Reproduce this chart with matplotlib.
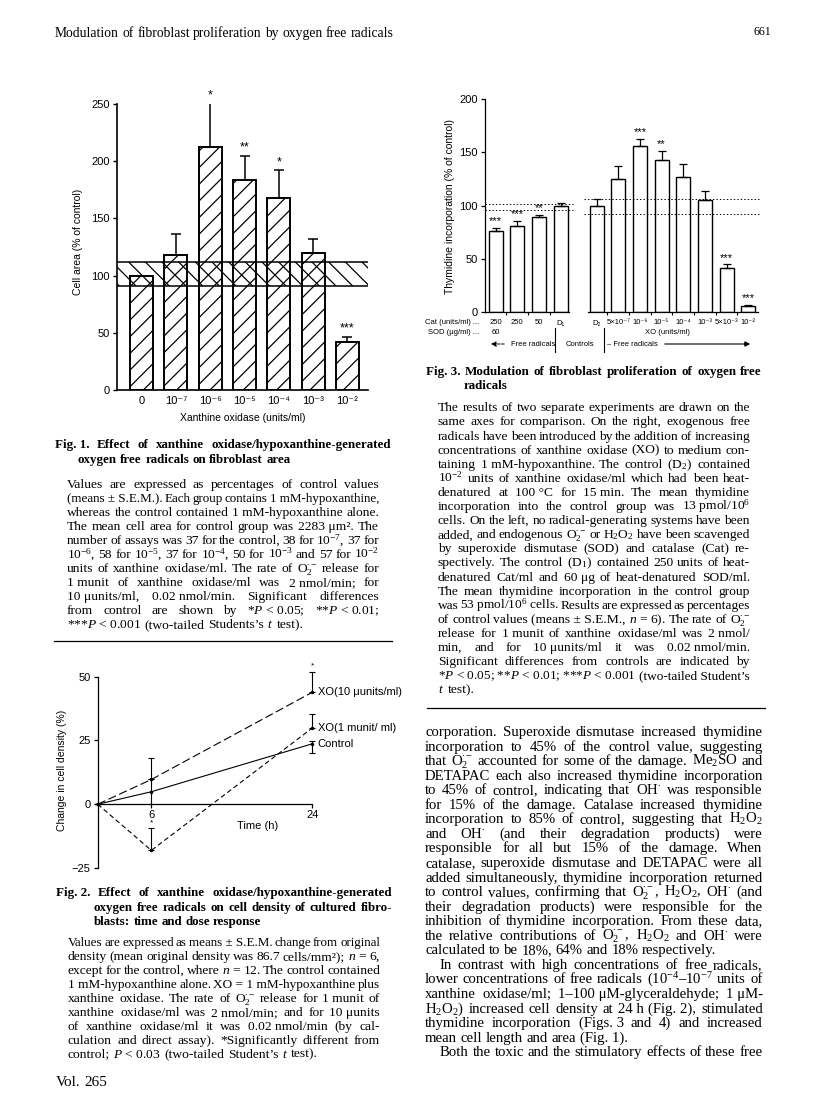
import numpy as np
import matplotlib
matplotlib.use('Agg')
import matplotlib.pyplot as plt
from matplotlib import transforms
from matplotlib.lines import Line2D

W, H = 816, 1097

plt.rcParams['mathtext.fontset'] = 'custom'
plt.rcParams['mathtext.rm'] = 'Liberation Serif'
plt.rcParams['mathtext.it'] = 'Liberation Serif:italic'
plt.rcParams['mathtext.bf'] = 'Liberation Serif:bold'
plt.rcParams['hatch.linewidth'] = 0.9
plt.rcParams['lines.scale_dashes'] = False

SERIF = ['Liberation Serif', 'DejaVu Serif']
SANS = ['Liberation Sans', 'DejaVu Sans']

# ---- Fig. 1 data: cell area vs xanthine oxidase
xo_labels = ['0', '10⁻⁷', '10⁻⁶', '10⁻⁵', '10⁻⁴', '10⁻³', '10⁻²']
area_mean = [100, 118, 212, 184, 168, 120, 42]
area_sem = [0, 18, 38.5, 20.5, 24, 12, 4.5]
area_sig = ['', '', '*', '**', '*', '', '***']
area_band = (90.5, 112)

# ---- Fig. 2 data: change in cell density over time
time_h = [0, 6, 24]
dens_xo10 = [0, 9.7, 43.9]
dens_xo10_err = [[0, 0, 0], [0, 8.6, 8.1]]
dens_xo1 = [0, -18.1, 29.9]
dens_xo1_err = [[0, 0, 0], [0, 8.8, 5.5]]
dens_ctrl = [0, 4.9, 23.7]
dens_ctrl_err = [[0, 4.9, 3.5], [0, 4.9, 1.0]]
dens_names = ['XO(10 μunits/ml)', 'XO(1 munit/ ml)', 'Control']

# ---- Fig. 3 data: thymidine incorporation
cat_labels = ['250', '250', '50', 'D₁']
sod_labels = ['60', '', '', '']
thy_left = [76.7, 80.8, 89.6, 99.4]
thy_left_sem = [2.5, 5.0, 2.2, 2.8]
sig_left = ['***', '***', '**', '']
xo3_labels = ['D₂', '5×10⁻⁷', '10⁻⁶', '10⁻⁵', '10⁻⁴', '10⁻³', '5×10⁻³', '10⁻²']
thy_right = [99.4, 125.2, 156.3, 142.5, 126.7, 105.0, 41.8, 5.7]
thy_right_sem = [6.6, 11.9, 6.6, 9.1, 12.0, 9.2, 3.2, 1.5]
sig_right = ['', '', '***', '**', '', '', '***', '***']
ctrl_left = (95.9, 101.9)
ctrl_right = (92.1, 106.0)

fig = plt.figure(figsize=(W / 100, H / 100), dpi=100)
renderer = fig.canvas.get_renderer()


def fx(px):
    return px / W


def fy(py):
    return 1 - py / H


def put_line(s, x0, x1, y, size=9, weight='normal', justify=True):
    # words joined by '~' stay together; line is spread to fill x0..x1
    words = [w.replace('~', ' ') for w in s.split()]
    base = y + 0.23 * size * 100 / 72
    texts = [fig.text(0, fy(base), w, fontsize=size, family=SERIF,
                      weight=weight, va='baseline') for w in words]
    widths = [t.get_window_extent(renderer).width for t in texts]
    min_gap = size * 100 / 72 * 0.12
    natural = sum(widths) + min_gap * (len(words) - 1)
    if natural > x1 - x0:
        k = (x1 - x0) / natural
        for t in texts:
            t.set_fontsize(size * k)
        widths = [t.get_window_extent(renderer).width for t in texts]
    if justify and len(words) > 1:
        gap = (x1 - x0 - sum(widths)) / (len(words) - 1)
    else:
        gap = size * 100 / 72 * 0.25
    x = x0
    for t, w in zip(texts, widths):
        t.set_x(fx(x))
        x += w + gap


def put_par(lines, x0, x1, y0, step, size=9, last_left=True):
    for i, s in enumerate(lines):
        indent = 0
        if s.startswith('>'):
            s = s[1:]
            indent = 14
        left = last_left and i == len(lines) - 1
        put_line(s, x0 + indent, x1, y0 + i * step, size=size, justify=not left)


def hrule(x0, x1, y):
    fig.add_artist(Line2D([fx(x0), fx(x1)], [fy(y), fy(y)], color='black', lw=0.9))


CAP = 9.7
TITLE = 9.4
BODY = 10.6

# header
put_line('Modulation of fibroblast proliferation by oxygen free radicals', 55, 394, 34,
         size=9.85, justify=False)
put_line('661', 754, 772, 32, size=9.85, justify=False)

# ================= Fig. 1 =================
ax1 = fig.add_axes([fx(117), fy(390), (368 - 117) / W, (390 - 104) / H])
x1 = np.arange(len(area_mean))
xl1 = (-0.72, 6.6)
ax1.bar(x1, area_mean, width=0.67, color='white', edgecolor='black', hatch='//',
        linewidth=1.4, zorder=2)
ax1.errorbar(x1, area_mean, yerr=[np.zeros(len(area_sem)), area_sem], fmt='none',
             ecolor='black', elinewidth=1.1, capsize=3.5, capthick=1.1, zorder=3)
ax1.fill_between(xl1, area_band[0], area_band[1], facecolor='none', edgecolor='black',
                 hatch='\\\\', linewidth=0, zorder=4)
ax1.hlines(area_band, xl1[0], xl1[1], color='black', lw=1.1, zorder=4)
for xi, m, e, s in zip(x1, area_mean, area_sem, area_sig):
    if s:
        ax1.text(xi, m + e + 2, s, ha='center', va='bottom', fontsize=9,
                 family=SANS, clip_on=False)
ax1.set_xlim(xl1)
ax1.set_ylim(0, 250)
ax1.set_yticks([0, 50, 100, 150, 200, 250])
ax1.set_yticklabels(['0', '50', '100', '150', '200', '250'], family=SANS, fontsize=8)
ax1.set_xticks(x1)
ax1.set_xticklabels(xo_labels, family=SANS, fontsize=8)
ax1.tick_params(axis='x', length=0, pad=4)
ax1.tick_params(axis='y', length=3, width=1, pad=2)
for sp in ['top', 'right']:
    ax1.spines[sp].set_visible(False)
for sp in ['left', 'bottom']:
    ax1.spines[sp].set_linewidth(1.2)
fig.text(fx(78), fy(242), 'Cell area (% of control)', rotation=90, ha='center',
         va='center', fontsize=7.5, family=SANS)
fig.text(fx(243), fy(418), 'Xanthine oxidase (units/ml)', ha='center', va='center',
         fontsize=7.5, family=SANS)

put_line('Fig.~1. Effect of xanthine oxidase/hypoxanthine-generated', 55, 391, 445,
         size=TITLE, weight='bold')
put_line('oxygen free radicals on fibroblast area', 78, 391, 460, size=TITLE,
         weight='bold', justify=False)

fig1_par = [
    'Values are expressed as percentages of control values',
    '(means~±~S.E.M.). Each group contains 1~mM-hypoxanthine,',
    'whereas the control contained 1~mM-hypoxanthine alone.',
    'The mean cell area for control group was 2283~μm². The',
    r'number of assays was 37 for the control, 38 for 10$^{-7}$, 37 for',
    r'10$^{-6}$, 58 for 10$^{-5}$, 37 for 10$^{-4}$, 50 for 10$^{-3}$ and 57 for 10$^{-2}$',
    r'units of xanthine oxidase/ml. The rate of O$_2^{\bullet-}$ release for',
    '1~munit of xanthine oxidase/ml was 2~nmol/min; for',
    '10~μunits/ml, 0.02~nmol/min. Significant differences',
    r'from control are shown by *$P$~<~0.05; **$P$~<~0.01;',
    r'***$P$~<~0.001 (two-tailed Students’s $t$ test).',
]
put_par(fig1_par, 67, 379, 485, 14.0, size=CAP)
hrule(54, 392, 641)

# ================= Fig. 2 =================
ax2 = fig.add_axes([fx(97.7), fy(868), (312.3 - 97.7) / W, (868 - 676.7) / H])
ax2.errorbar(time_h, dens_xo10, yerr=dens_xo10_err, color='black', lw=0.8,
             dashes=(6, 2.5), marker='.', ms=3, elinewidth=0.8, capsize=2,
             capthick=0.8, clip_on=False)
ax2.errorbar(time_h, dens_xo1, yerr=dens_xo1_err, color='black', lw=0.8,
             dashes=(3.5, 2.2), marker='.', ms=3, elinewidth=0.8, capsize=2,
             capthick=0.8, clip_on=False)
ax2.errorbar(time_h, dens_ctrl, yerr=dens_ctrl_err, color='black', lw=0.8,
             marker='.', ms=3, elinewidth=0.8, capsize=2, capthick=0.8, clip_on=False)
for vals, name in zip([dens_xo10, dens_xo1, dens_ctrl], dens_names):
    ax2.annotate(name, xy=(time_h[-1], vals[-1]), xytext=(4, 0),
                 textcoords='offset points', va='center', ha='left', fontsize=8,
                 family=SANS, annotation_clip=False)
ax2.text(24, dens_xo10[-1] + dens_xo10_err[1][-1] + 0.8, '*', ha='center',
         va='bottom', fontsize=6, family=SANS)
ax2.text(6, dens_xo1[1] + dens_xo1_err[1][1] + 0.8, '*', ha='center',
         va='bottom', fontsize=6, family=SANS)
ax2.set_xlim(0, 24)
ax2.set_ylim(-25, 50)
ax2.spines['bottom'].set_position(('data', 0))
for sp in ['top', 'right']:
    ax2.spines[sp].set_visible(False)
ax2.spines['left'].set_linewidth(0.9)
ax2.spines['bottom'].set_linewidth(0.9)
ax2.set_yticks([-25, 0, 25, 50])
ax2.set_yticklabels(['−25', '0', '25', '50'], family=SANS, fontsize=8)
ax2.set_xticks([6, 24])
ax2.set_xticklabels(['6', '24'], family=SANS, fontsize=8)
ax2.tick_params(axis='x', length=3, width=0.9, pad=1)
ax2.tick_params(axis='y', length=3, width=0.9, pad=2)
fig.text(fx(258), fy(826), 'Time (h)', ha='center', va='center', fontsize=8, family=SANS)
fig.text(fx(62), fy(770), 'Change in cell density (%)', rotation=90, ha='center',
         va='center', fontsize=7.5, family=SANS)

put_line('Fig.~2. Effect of xanthine oxidase/hypoxanthine-generated', 56, 392, 893,
         size=TITLE, weight='bold')
put_line('oxygen free radicals on cell density of cultured fibro-', 94, 392, 908,
         size=TITLE, weight='bold')
put_line('blasts: time and dose response', 94, 392, 922, size=TITLE, weight='bold',
         justify=False)

fig2_par = [
    'Values are expressed as means~±~S.E.M. change from original',
    r'density (mean original density was 86.7 cells/mm²); $n$~=~6,',
    r'except for the control, where $n$~=~12. The control contained',
    '1~mM-hypoxanthine alone. XO~=~1~mM-hypoxanthine plus',
    r'xanthine oxidase. The rate of O$_2^{\bullet-}$ release for 1~munit of',
    'xanthine oxidase/ml was 2~nmol/min; and for 10~μunits',
    'of xanthine oxidase/ml it was 0.02~nmol/min (by cal-',
    'culation and direct assay). *Significantly different from',
    r'control; $P$~<~0.03 (two-tailed Student’s $t$ test).',
]
put_par(fig2_par, 68, 380, 943, 13.95, size=CAP)
put_line('Vol. 265', 56, 120, 1082, size=11, justify=False)

# ================= Fig. 3 =================
ax3 = fig.add_axes([fx(485), fy(312.5), (760 - 485) / W, (312.5 - 99) / H])
xl3 = (-0.49, 12.2)
gap = 0.66
xs_left = np.arange(len(thy_left))
xs_right = np.arange(len(thy_right)) + len(thy_left) + gap
ax3.bar(xs_left, thy_left, width=0.65, color='white', edgecolor='black', lw=1.0, zorder=2)
ax3.bar(xs_right, thy_right, width=0.65, color='white', edgecolor='black', lw=1.0, zorder=2)
ax3.errorbar(xs_left, thy_left, yerr=[np.zeros(4), thy_left_sem], fmt='none',
             ecolor='black', elinewidth=0.9, capsize=3, capthick=0.9, zorder=3)
ax3.errorbar(xs_right, thy_right, yerr=[np.zeros(8), thy_right_sem], fmt='none',
             ecolor='black', elinewidth=0.9, capsize=3, capthick=0.9, zorder=3)
for xs, vals, sems, sigs in [(xs_left, thy_left, thy_left_sem, sig_left),
                             (xs_right, thy_right, thy_right_sem, sig_right)]:
    for xi, m, e, s in zip(xs, vals, sems, sigs):
        if s:
            ax3.text(xi, m + e + 1.5, s, ha='center', va='bottom', fontsize=8,
                     family=SANS)
left_end = xs_left[-1] + 0.56
right_start = xs_right[0] - 0.6
ax3.hlines(ctrl_left, xl3[0], left_end, color='black', lw=0.7, linestyles=(0, (1, 1.5)))
ax3.hlines(ctrl_right, right_start, xl3[1], color='black', lw=0.7,
           linestyles=(0, (1, 1.5)))
ax3.set_xlim(xl3)
ax3.set_ylim(0, 200)
ax3.spines['bottom'].set_visible(False)
for sp in ['top', 'right']:
    ax3.spines[sp].set_visible(False)
ax3.spines['left'].set_linewidth(0.9)
ax3.plot([xl3[0], xs_left[-1] + 0.4], [0, 0], color='black', lw=0.9, clip_on=False)
ax3.plot([xs_right[0] - 0.4, xs_right[-1] + 0.45], [0, 0], color='black', lw=0.9,
         clip_on=False)
ax3.set_yticks([0, 50, 100, 150, 200])
ax3.set_yticklabels(['0', '50', '100', '150', '200'], family=SANS, fontsize=8)
ax3.set_xticks(list(xs_left[:-1] + 0.5) + list(xs_right[:-1] + 0.5))
ax3.set_xticklabels([])
ax3.tick_params(axis='x', length=2.5, width=0.8, direction='out')
ax3.tick_params(axis='y', length=3, width=0.9, pad=2)
fig.text(fx(450), fy(206), 'Thymidine incorporation (% of control)', rotation=90,
         ha='center', va='center', fontsize=7.5, family=SANS)

tr3 = transforms.blended_transform_factory(ax3.transData, fig.transFigure)
for xi, lab in zip(xs_left, cat_labels):
    ax3.text(xi, fy(323), lab, transform=tr3, ha='center', va='center', fontsize=5.5,
             family=SANS)
for xi, lab in zip(xs_left, sod_labels):
    ax3.text(xi, fy(333), lab, transform=tr3, ha='center', va='center', fontsize=5.5,
             family=SANS)
for xi, lab in zip(xs_right, xo3_labels):
    ax3.text(xi, fy(323), lab, transform=tr3, ha='center', va='center', fontsize=5.5,
             family=SANS)
fig.text(fx(425), fy(323), 'Cat (units/ml) ...', ha='left', va='center', fontsize=5.5,
         family=SANS)
fig.text(fx(428), fy(333), 'SOD (μg/ml) ...', ha='left', va='center', fontsize=5.5,
         family=SANS)
fig.text(fx(667), fy(333), 'XO (units/ml)', ha='center', va='center', fontsize=5.5,
         family=SANS)
fig.text(fx(511), fy(344), 'Free radicals', ha='left', va='center', fontsize=5.5,
         family=SANS)
fig.text(fx(580), fy(344), 'Controls', ha='center', va='center', fontsize=5.5,
         family=SANS)
fig.text(fx(607), fy(344), '– Free radicals', ha='left', va='center', fontsize=5.5,
         family=SANS)
fig.add_artist(plt.Line2D([fx(555), fx(555)], [fy(328), fy(352)], color='black', lw=0.8))
fig.add_artist(plt.Line2D([fx(604), fx(604)], [fy(328), fy(352)], color='black', lw=0.8))
fig.add_artist(matplotlib.patches.FancyArrowPatch(
    (fx(507), fy(344)), (fx(488), fy(344)), transform=fig.transFigure,
    arrowstyle='-|>,head_length=3,head_width=1.5', color='black', lw=0.7,
    linestyle=(0, (2, 1))))
fig.add_artist(matplotlib.patches.FancyArrowPatch(
    (fx(662), fy(344)), (fx(753), fy(344)), transform=fig.transFigure,
    arrowstyle='-|>,head_length=3,head_width=1.5', color='black', lw=0.8))

put_line('Fig.~3. Modulation of fibroblast proliferation of oxygen free', 426, 762, 371.7,
         size=TITLE, weight='bold')
put_line('radicals', 464, 762, 386, size=TITLE, weight='bold', justify=False)

fig3_par = [
    'The results of two separate experiments are drawn on the',
    'same axes for comparison. On the right, exogenous free',
    'radicals have been introduced by the addition of increasing',
    'concentrations of xanthine oxidase (XO) to medium con-',
    r'taining 1~mM-hypoxanthine. The control (D$_2$) contained',
    r'10$^{-2}$ units of xanthine oxidase/ml which had been heat-',
    'denatured at 100~°C for 15~min. The mean thymidine',
    r'incorporation into the control group was 13~pmol/10$^6$',
    'cells. On the left, no radical-generating systems have been',
    r'added, and endogenous O$_2^{\bullet-}$ or H$_2$O$_2$ have been scavenged',
    'by superoxide dismutase (SOD) and catalase (Cat) re-',
    r'spectively. The control (D$_1$) contained 250 units of heat-',
    'denatured Cat/ml and 60~μg of heat-denatured SOD/ml.',
    'The mean thymidine incorporation in the control group',
    r'was 53~pmol/10$^6$~cells. Results are expressed as percentages',
    r'of control values (means~±~S.E.M., $n$~=~6). The rate of O$_2^{\bullet-}$',
    'release for 1~munit of xanthine oxidase/ml was 2~nmol/',
    'min, and for 10~μunits/ml it was 0.02~nmol/min.',
    'Significant differences from controls are indicated by',
    r'*$P$~<~0.05;~**$P$~<~0.01;~***$P$~<~0.001 (two-tailed~Student’s',
    r'$t$ test).',
]
put_par(fig3_par, 438, 750, 408.3, 14.1, size=CAP)
hrule(427, 765, 708.3)

body = [
    'corporation. Superoxide dismutase increased thymidine',
    'incorporation to 45% of the control value, suggesting',
    r'that O$_2^{\bullet-}$ accounted for some of the damage. Me$_2$SO and',
    'DETAPAC each also increased thymidine incorporation',
    r'to 45% of control, indicating that OH$^{\bullet}$ was responsible',
    'for 15% of the damage. Catalase increased thymidine',
    r'incorporation to 85% of control, suggesting that H$_2$O$_2$',
    r'and OH$^{\bullet}$ (and their degradation products) were',
    'responsible for all but 15% of the damage. When',
    'catalase, superoxide dismutase and DETAPAC were all',
    'added simultaneously, thymidine incorporation returned',
    r'to control values, confirming that O$_2^{\bullet-}$, H$_2$O$_2$, OH$^{\bullet}$ (and',
    'their degradation products) were responsible for the',
    'inhibition of thymidine incorporation. From these data,',
    r'the relative contributions of O$_2^{\bullet-}$, H$_2$O$_2$ and OH$^{\bullet}$ were',
]
put_par(body, 425, 762.7, 732.7, 14.55, size=BODY, last_left=False)
put_line('calculated to be 18%, 64% and 18% respectively.', 425, 762.7,
         732.7 + 15 * 14.55, size=BODY, justify=False)
body2 = [
    '>In contrast with high concentrations of free radicals,',
    r'lower concentrations of free radicals (10$^{-4}$–10$^{-7}$ units of',
    'xanthine oxidase/ml; 1–100~μM-glyceraldehyde; 1~μM-',
    r'H$_2$O$_2$) increased cell density at 24~h (Fig.~2), stimulated',
    'thymidine incorporation (Figs.~3 and 4) and increased',
    'mean cell length and area (Fig.~1).',
]
put_par(body2, 425, 762.7, 732.7 + 16 * 14.55, 14.55, size=BODY)
put_line('Both the toxic and the stimulatory effects of these free',
         440, 762.7, 732.7 + 22 * 14.55, size=BODY)

fig.savefig('out.png', dpi=100)
